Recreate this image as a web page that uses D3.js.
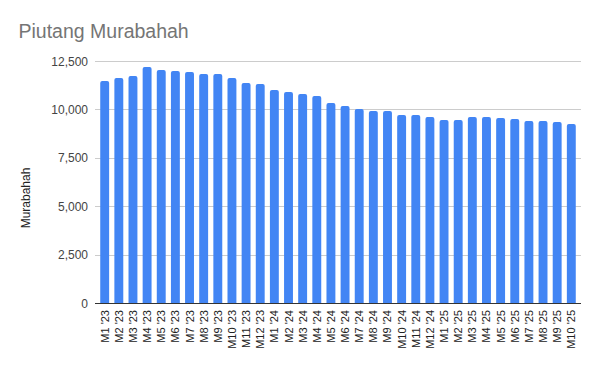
<!DOCTYPE html>
<html><head><meta charset="utf-8">
<script src="https://cdn.jsdelivr.net/npm/d3@7"></script>
<style>body{margin:0;background:#fff;}svg{display:block;font-family:Arial,"Liberation Sans",sans-serif;}</style>
</head><body>
<svg id="c" width="600" height="371"></svg>
<script>
const categories = ["M1 '23","M2 '23","M3 '23","M4 '23","M5 '23","M6 '23","M7 '23","M8 '23","M9 '23","M10 '23","M11 '23","M12 '23",
"M1 '24","M2 '24","M3 '24","M4 '24","M5 '24","M6 '24","M7 '24","M8 '24","M9 '24","M10 '24","M11 '24","M12 '24",
"M1 '25","M2 '25","M3 '25","M4 '25","M5 '25","M6 '25","M7 '25","M8 '25","M9 '25","M10 '25"];
const values = [11470,11620,11730,12190,12030,11980,11930,11830,11830,11620,11360,11310,
11000,10900,10800,10690,10330,10180,10020,9920,9920,9710,9710,9610,
9450,9450,9610,9610,9560,9500,9400,9400,9350,9250];
const yTicks = [0,2500,5000,7500,10000,12500];
const title = "Piutang Murabahah";
const yLabel = "Murabahah";

const svg = d3.select("#c");
const m = {l:95, r:19, t:61, b:68};
const W = 600, H = 371;
const x = d3.scaleBand().domain(categories).range([m.l, W-m.r]).paddingInner(0.37).paddingOuter(0.37);
const y = d3.scaleLinear().domain([0,12500]).range([H-m.b, m.t]);

svg.append("text").attr("x",18.5).attr("y",38).attr("font-size",19.5).attr("fill","#757575").text(title);

svg.append("g").selectAll("line").data(yTicks).join("line")
  .attr("x1",m.l).attr("x2",W-m.r)
  .attr("y1",d=>Math.round(y(d))+0.5).attr("y2",d=>Math.round(y(d))+0.5)
  .attr("stroke","#cccccc").attr("stroke-width",1);

svg.append("g").selectAll("text").data(yTicks).join("text")
  .attr("x",m.l-7).attr("y",d=>y(d)+4.5).attr("text-anchor","end")
  .attr("font-size",12).attr("fill","#444").text(d=>d3.format(",")(d));

const r = 2;
svg.append("g").selectAll("path").data(values).join("path")
  .attr("fill","#4285f4")
  .attr("d",(d,i)=>{
    const x0 = x(categories[i]), w = x.bandwidth(), y0 = y(d), yb = y(0);
    return `M${x0},${yb}V${y0+r}Q${x0},${y0} ${x0+r},${y0}H${x0+w-r}Q${x0+w},${y0} ${x0+w},${y0+r}V${yb}Z`;
  });

svg.append("line").attr("x1",m.l).attr("x2",W-m.r).attr("y1",Math.round(y(0))+0.5).attr("y2",Math.round(y(0))+0.5)
  .attr("stroke","#333").attr("stroke-width",1);

svg.append("g").selectAll("text").data(categories).join("text")
  .attr("transform",d=>`translate(${x(d)+x.bandwidth()/2+4},${y(0)+7}) rotate(-90)`)
  .attr("text-anchor","end").attr("font-size",11).attr("fill","#222").text(d=>d);

svg.append("text").attr("transform",`translate(30,198) rotate(-90)`)
  .attr("text-anchor","middle").attr("font-size",12).attr("fill","#222").text(yLabel);
</script>
</body></html>
